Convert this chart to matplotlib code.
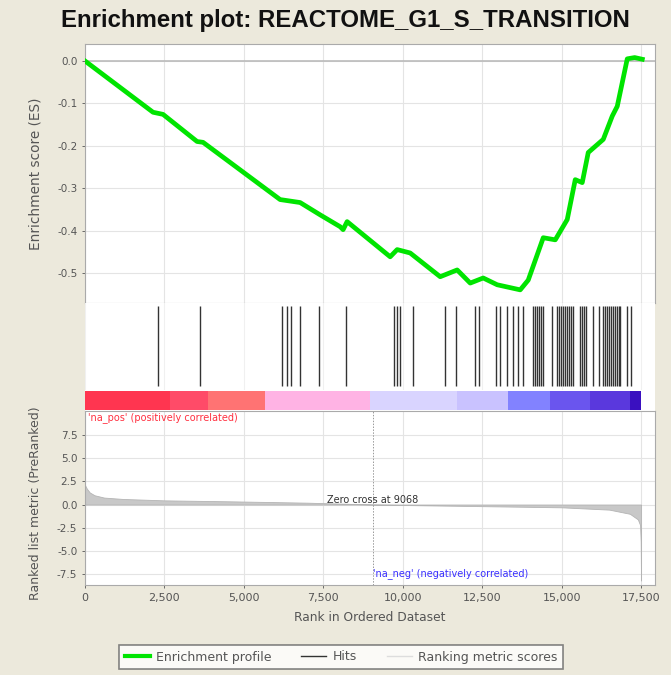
import matplotlib
matplotlib.use("Agg")
import matplotlib.pyplot as plt
from matplotlib.lines import Line2D

plt.rcParams['font.family'] = ['DejaVu Sans']

title = "Enrichment plot: REACTOME_G1_S_TRANSITION"

# Enrichment score profile (rank, ES)
es_rank = [0, 2141, 2456, 3527, 3716, 6141, 6770, 7400, 8030, 8124, 8250, 9605, 9825,
           10234, 11179, 11714, 12124, 12533, 12974, 13698, 13950, 14423, 14801, 15178,
           15430, 15650, 15839, 16312, 16595, 16752, 17067, 17300, 17540]
es_val = [0.0, -0.121, -0.126, -0.190, -0.192, -0.327, -0.334, -0.363, -0.391, -0.398,
          -0.379, -0.462, -0.445, -0.453, -0.509, -0.493, -0.524, -0.512, -0.528, -0.540,
          -0.517, -0.417, -0.422, -0.374, -0.280, -0.287, -0.216, -0.185, -0.130, -0.107,
          0.005, 0.008, 0.004]

# Hit positions (ranks)
hits = [2299, 3621, 6204, 6361, 6487, 6770, 7369, 8219, 9730, 9825, 9919, 10329, 11336,
        11683, 12281, 12407, 12942, 13068, 13289, 13478, 13635, 13793, 14108, 14171, 14234,
        14297, 14360, 14423, 14706, 14864, 14927, 14990, 15052, 15115, 15178, 15241, 15304,
        15367, 15588, 15651, 15714, 15777, 15997, 16186, 16312, 16375, 16438, 16501, 16564,
        16627, 16690, 16753, 16816, 16847, 17067, 17193]

# Ranked list metric (rank, value)
metric_rank = [0, 60, 150, 300, 600, 1200, 2500, 4500, 7000, 9068, 11000, 13000, 15000,
               16500, 17150, 17400, 17470, 17490, 17500]
metric_val = [2.1, 1.7, 1.3, 1.0, 0.75, 0.6, 0.45, 0.35, 0.2, 0.0, -0.1, -0.2, -0.3,
              -0.55, -1.0, -1.6, -2.2, -4.0, -8.2]

# Colour bar segments (rank boundaries) and colours
bar_edges = [0, 2677, 3873, 5668, 8975, 11714, 13320, 14643, 15903, 17162, 17500]
bar_colors = ['#FF3550', '#FF4B68', '#FF7373', '#FFB3E4', '#D9D4FF', '#C9C2FF',
              '#8282FF', '#6A55EE', '#5A38DD', '#3A10C0']

zero_cross = 9068
xticks = [0, 2500, 5000, 7500, 10000, 12500, 15000, 17500]
xticklabels = ["0", "2,500", "5,000", "7,500", "10,000", "12,500", "15,000", "17,500"]
es_ticks = [0.0, -0.1, -0.2, -0.3, -0.4, -0.5]
metric_ticks = [7.5, 5.0, 2.5, 0.0, -2.5, -5.0, -7.5]

W, H = 671, 675
fig = plt.figure(figsize=(W / 100, H / 100), dpi=100)
fig.patch.set_facecolor('#ECE9DC')

def box(x0, y0, x1, y1):
    return [x0 / W, 1 - y1 / H, (x1 - x0) / W, (y1 - y0) / H]

XMAX = 17940
tick_col = '#555555'
grid_col = '#E4E4E4'

ax1 = fig.add_axes(box(85, 44, 655, 303))
ax2 = fig.add_axes(box(85, 303, 655, 390))
ax3 = fig.add_axes(box(85, 390, 655, 411))
ax4 = fig.add_axes(box(85, 411, 655, 585))

for ax in (ax1, ax2, ax3, ax4):
    ax.set_xlim(0, XMAX)
    for s in ax.spines.values():
        s.set_color('#AAAAAA')
        s.set_linewidth(0.8)
    ax.tick_params(colors=tick_col, labelsize=7.5, length=2.5, width=0.6, pad=3)

# Top panel
ax1.set_ylim(-0.571, 0.040)
ax1.set_xticks(xticks)
ax1.set_xticklabels([])
ax1.tick_params(axis='x', length=0)
ax1.set_yticks(es_ticks)
ax1.set_yticklabels([f"{t:.1f}" for t in es_ticks])
ax1.grid(True, color=grid_col, linewidth=0.8)
ax1.set_axisbelow(True)
ax1.axhline(0, color='#BBBBBB', linewidth=1.2, zorder=1)
ax1.plot(es_rank, es_val, color='#00E400', linewidth=3.4, solid_joinstyle='round',
         zorder=3)
ax1.set_ylabel("Enrichment score (ES)", fontsize=9.8, color=tick_col)
ax1.yaxis.set_label_coords(-0.075, 0.5)

# Hits panel
ax2.set_ylim(0, 1)
ax2.set_xticks(xticks)
ax2.set_yticks([])
ax2.set_xticklabels([])
ax2.tick_params(axis='x', length=0)
ax2.grid(True, axis='x', color='#F0F0F0', linewidth=0.8)
ax2.vlines(hits, 0.05, 0.96, color='#333333', linewidth=1.0)
for s in ax2.spines.values():
    s.set_visible(False)

# Colour bar
ax3.set_ylim(0, 1)
ax3.set_xticks([])
ax3.set_yticks([])
for s in ax3.spines.values():
    s.set_visible(False)
for i, c in enumerate(bar_colors):
    ax3.axvspan(bar_edges[i], bar_edges[i + 1], 0.05, 0.95, color=c, linewidth=0)

# Bottom panel
ax4.set_ylim(-8.68, 10.09)
ax4.set_xticks(xticks)
ax4.set_xticklabels(xticklabels)
ax4.tick_params(axis='x', labelsize=8)
ax4.set_yticks(metric_ticks)
ax4.set_yticklabels([f"{t:.1f}" for t in metric_ticks])
ax4.grid(True, color=grid_col, linewidth=0.8)
ax4.set_axisbelow(True)
ax4.fill_between(metric_rank, metric_val, 0, color='#C8C8C8', linewidth=0.6,
                 edgecolor='#B4B4B4', zorder=2)
ax4.axvline(zero_cross, color='#999999', linewidth=0.7, linestyle=(0, (1.5, 1.5)), zorder=2)
ax4.text(zero_cross, 0.45, f"Zero cross at {zero_cross}", fontsize=7, color='#333333',
         ha='center', va='center', zorder=4)
ax4.text(100, 9.95, "'na_pos' (positively correlated)", fontsize=7, color='#FF3040',
         ha='left', va='top')
ax4.text(zero_cross, -7.4, "'na_neg' (negatively correlated)", fontsize=7, color='#3A30FF',
         ha='left', va='center')
ax4.set_ylabel("Ranked list metric (PreRanked)", fontsize=9, color=tick_col)
ax4.yaxis.set_label_coords(-0.075, 0.47)
ax4.set_xlabel("Rank in Ordered Dataset", fontsize=8.8, color=tick_col, labelpad=6)

fig.text(345 / W, 1 - 21 / H, title, fontsize=17.3, fontweight='bold', ha='center',
         va='center', color='#111111', family=['Liberation Sans', 'DejaVu Sans'])

# Legend
handles = [Line2D([], [], color='#00E400', linewidth=3),
           Line2D([], [], color='#333333', linewidth=1),
           Line2D([], [], color='#DDDDDD', linewidth=1)]
labels = ["Enrichment profile", "Hits", "Ranking metric scores"]
leg = fig.legend(handles, labels, loc='center', bbox_to_anchor=(341 / W, 1 - 657 / H),
                 ncol=3, fontsize=9, frameon=True, fancybox=False, handlelength=2.0,
                 columnspacing=2.4, handletextpad=0.5, borderpad=0.45)
leg.get_frame().set_edgecolor('#666666')
leg.get_frame().set_linewidth(1.2)
for t in leg.get_texts():
    t.set_color('#555555')

fig.savefig("out.png", dpi=100, facecolor=fig.get_facecolor())
